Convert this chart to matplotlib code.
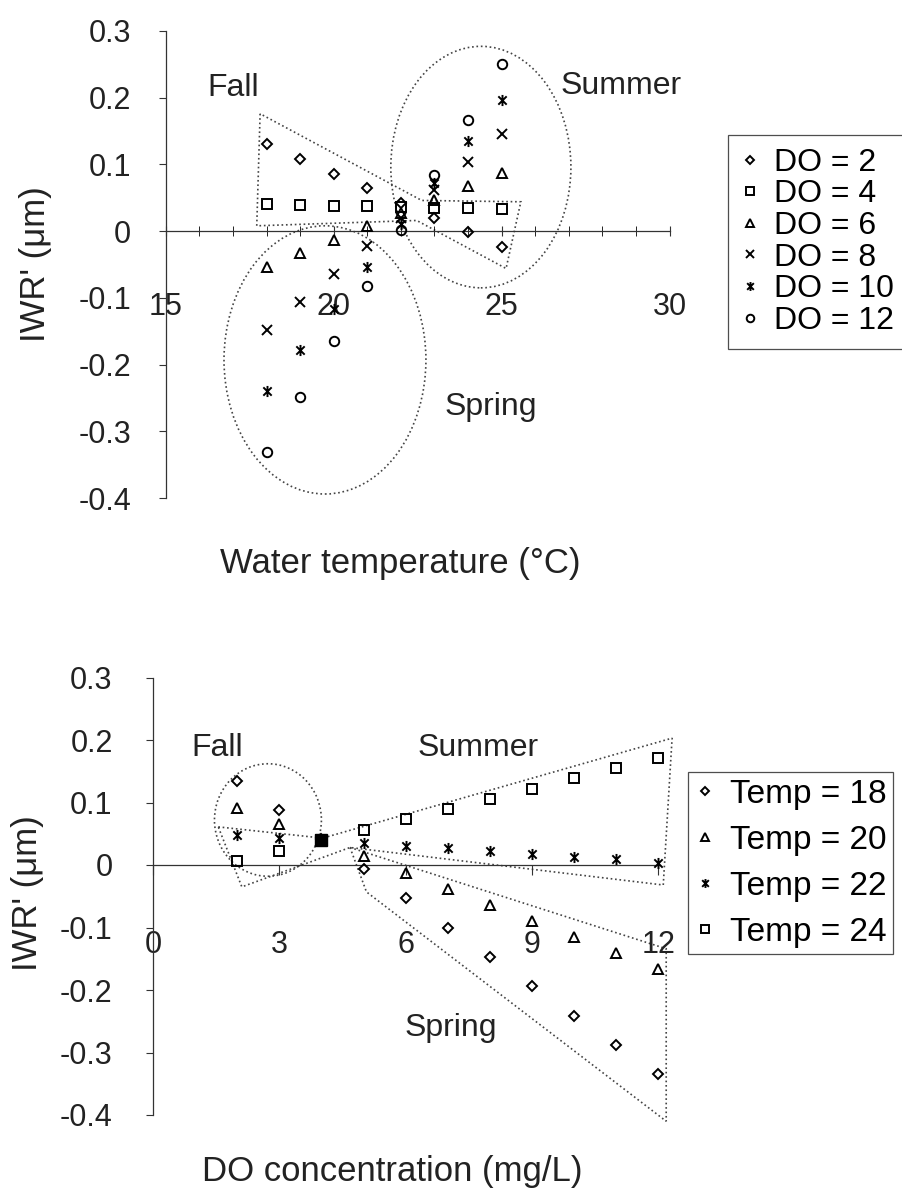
import matplotlib as mpl
mpl.use('Agg')
import matplotlib.pyplot as plt
from matplotlib.patches import Ellipse, Polygon
from matplotlib.path import Path
from matplotlib.lines import Line2D

plt.rcParams['font.family'] = ['Liberation Sans', 'DejaVu Sans']

# top panel: IWR' vs water temperature, one series per DO level
temps = [18, 19, 20, 21, 22, 23, 24, 25]
do_labels = ['DO = 2', 'DO = 4', 'DO = 6', 'DO = 8', 'DO = 10', 'DO = 12']
iwr_do2 = [0.130, 0.108, 0.086, 0.064, 0.042, 0.020, -0.002, -0.024]
iwr_do4 = [0.040, 0.039, 0.038, 0.037, 0.036, 0.035, 0.034, 0.033]
iwr_do6 = [-0.053, -0.033, -0.013, 0.007, 0.027, 0.047, 0.067, 0.087]
iwr_do8 = [-0.148, -0.106, -0.064, -0.022, 0.020, 0.062, 0.104, 0.146]
iwr_do10 = [-0.240, -0.178, -0.116, -0.053, 0.010, 0.072, 0.135, 0.197]
iwr_do12 = [-0.331, -0.248, -0.165, -0.082, 0.001, 0.084, 0.167, 0.250]

# bottom panel: IWR' vs DO concentration, one series per temperature
do_conc = [2, 3, 4, 5, 6, 7, 8, 9, 10, 11, 12]
temp_labels = ['Temp = 18', 'Temp = 20', 'Temp = 22', 'Temp = 24']
iwr_t18 = [0.135, 0.088, 0.041, -0.006, -0.053, -0.100, -0.147, -0.194, -0.241, -0.288, -0.335]
iwr_t20 = [0.091, 0.066, 0.040, 0.014, -0.012, -0.038, -0.064, -0.089, -0.115, -0.141, -0.167]
iwr_t22 = [0.048, 0.044, 0.040, 0.036, 0.031, 0.027, 0.022, 0.018, 0.013, 0.009, 0.004]
iwr_t24 = [0.006, 0.023, 0.040, 0.056, 0.073, 0.089, 0.106, 0.122, 0.139, 0.155, 0.172]

# season outlines (hand drawn in the original)
fall_poly_top = [(17.81, 0.176), (17.71, 0.008), (22.47, 0.016), (25.13, -0.056),
                 (25.57, 0.044), (22.62, 0.046)]
summer_ell_top = (24.38, 0.096, 5.36, 0.362)
spring_ell_top = (19.74, -0.193, 6.01, 0.402)
fall_ell_bot = (2.73, 0.072, 2.54, 0.18)
summer_poly_bot = [(1.55, 0.061), (4.03, 0.043), (12.33, 0.203), (12.12, -0.032),
                   (4.68, 0.028), (2.11, -0.035)]
spring_poly_bot = [(4.68, 0.028), (5.07, -0.043), (12.19, -0.41), (12.19, -0.134)]

# excel style asterisk: an x with a vertical bar
star = Path([(0, -1), (0, 1), (-0.75, -0.75), (0.75, 0.75), (-0.75, 0.75), (0.75, -0.75)],
            [Path.MOVETO, Path.LINETO] * 3)

mk = dict(ls='none', mfc='none', mec='black', mew=1.4, color='black')
styles = {
    'D': dict(marker='D', ms=5.5),
    's': dict(marker='s', ms=7.2),
    '^': dict(marker='^', ms=7.0),
    'x': dict(marker='x', ms=6.8),
    '*': dict(marker=star, ms=8.0),
    'o': dict(marker='o', ms=6.8),
}
outline = dict(fill=False, ls=':', lw=1.2, ec='#444444', clip_on=False)
txt = dict(fontsize=23, ha='center', va='center', color='#222222')

W, H = 902, 1196
fig = plt.figure(figsize=(W / 100, H / 100), dpi=100)
fig.patch.set_facecolor('white')

ax1 = fig.add_axes([165.7 / W, 1 - 498 / H, 504 / W, 467 / H])
ax2 = fig.add_axes([153 / W, 1 - 1115 / H, 505.2 / W, 437.5 / H])

for ax in (ax1, ax2):
    ax.set_facecolor('none')
    for s in ('top', 'right'):
        ax.spines[s].set_visible(False)
    ax.spines['bottom'].set_position(('data', 0))
    for s in ('left', 'bottom'):
        ax.spines[s].set_linewidth(0.9)
        ax.spines[s].set_color('#333333')
    ax.set_ylim(-0.4, 0.3)
    ax.set_yticks([0.3, 0.2, 0.1, 0, -0.1, -0.2, -0.3, -0.4])
    ax.set_yticklabels(['0.3', '0.2', '0.1', '0', '-0.1', '-0.2', '-0.3', '-0.4'])
    ax.tick_params(axis='y', direction='out', length=5, width=0.8, color='#333333',
                   labelsize=22, labelcolor='#222222')
    ax.tick_params(axis='x', labelsize=22, labelcolor='#222222', color='#333333', width=0.8)

# ---- top panel
ax1.set_xlim(15, 30)
ax1.set_xticks([15, 20, 25, 30])
ax1.set_xticks(range(15, 31), minor=True)
ax1.tick_params(axis='x', which='both', direction='inout', length=7, pad=40)
ax1.tick_params(axis='y', pad=20)

top_series = [iwr_do2, iwr_do4, iwr_do6, iwr_do8, iwr_do10, iwr_do12]
keys = ['D', 's', '^', 'x', '*', 'o']
handles = []
for vals, k, lab in zip(top_series, keys, do_labels):
    ax1.plot(temps, vals, **mk, **styles[k], zorder=3, clip_on=False)
    st = dict(styles[k])
    st['ms'] = st['ms'] * 0.8
    handles.append(Line2D([], [], **mk, **st, label=lab))

ax1.add_patch(Polygon(fall_poly_top, closed=True, **outline))
for cx, cy, w, h in (summer_ell_top, spring_ell_top):
    ax1.add_patch(Ellipse((cx, cy), w, h, **outline))

ax1.text(17.02, 0.214, 'Fall', **txt)
ax1.text(28.55, 0.217, 'Summer', **txt)
ax1.text(24.68, -0.264, 'Spring', **txt)

leg1 = fig.legend(handles=handles, loc='upper left', bbox_to_anchor=(728 / W, 1 - 135 / H),
                  fontsize=23, frameon=True, fancybox=False, edgecolor='#222222',
                  borderpad=0.4, labelspacing=0.05, handlelength=0.6, handletextpad=0.45,
                  borderaxespad=0)
leg1.get_frame().set_linewidth(0.9)

# ---- bottom panel
ax2.set_xlim(0, 12)
ax2.set_xticks([0, 3, 6, 9, 12])
ax2.tick_params(axis='x', direction='out', length=7, pad=40)
ax2.tick_params(axis='y', pad=24)

bot_series = [iwr_t18, iwr_t20, iwr_t22, iwr_t24]
keys2 = ['D', '^', '*', 's']
handles2 = []
for vals, k, lab in zip(bot_series, keys2, temp_labels):
    ax2.plot(do_conc, vals, **mk, **styles[k], zorder=3, clip_on=False)
    st = dict(styles[k])
    st['ms'] = st['ms'] * 0.8
    handles2.append(Line2D([], [], **mk, **st, label=lab))

# all temperatures meet at DO = 4: shown as a filled square
i4 = do_conc.index(4)
ax2.plot([do_conc[i4]], [iwr_t24[i4]], ls='none', marker='s', ms=9, mfc='black',
         mec='black', zorder=4)

ax2.add_patch(Ellipse(fall_ell_bot[:2], fall_ell_bot[2], fall_ell_bot[3], **outline))
for poly in (summer_poly_bot, spring_poly_bot):
    ax2.add_patch(Polygon(poly, closed=True, **outline))

ax2.text(1.52, 0.187, 'Fall', **txt)
ax2.text(7.72, 0.187, 'Summer', **txt)
ax2.text(7.08, -0.261, 'Spring', **txt)

leg2 = fig.legend(handles=handles2, loc='upper left', bbox_to_anchor=(688 / W, 1 - 772 / H),
                  fontsize=24, frameon=True, fancybox=False, edgecolor='#222222',
                  borderpad=0.2, labelspacing=0.45, handlelength=0.6, handletextpad=0.45,
                  borderaxespad=0)
leg2.get_frame().set_linewidth(0.9)

# axis titles
fig.text(35 / W, 1 - 264 / H, "IWR' (\u03bcm)", rotation=90, fontsize=25,
         ha='center', va='center', color='#222222')
fig.text(400 / W, 1 - 563 / H, 'Water temperature (\u00b0C)', fontsize=25,
         ha='center', va='center', color='#222222')
fig.text(27 / W, 1 - 893 / H, "IWR' (\u03bcm)", rotation=90, fontsize=25,
         ha='center', va='center', color='#222222')
fig.text(392 / W, 1 - 1172 / H, 'DO concentration (mg/L)', fontsize=25,
         ha='center', va='center', color='#222222')

fig.savefig('out.png', dpi=100)
